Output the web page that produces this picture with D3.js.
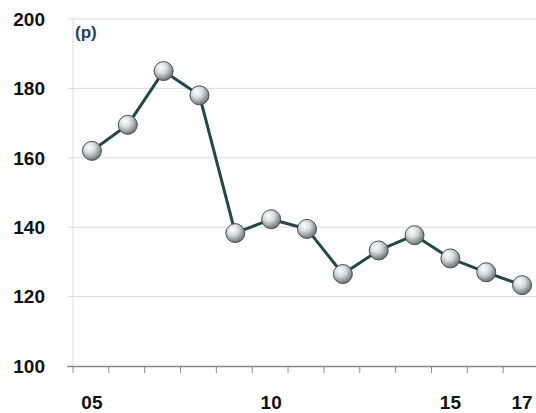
<!DOCTYPE html>
<html>
<head>
<meta charset="utf-8">
<script src="https://cdn.jsdelivr.net/npm/d3@7"></script>
<style>
  html, body { margin: 0; padding: 0; background: #fff; }
  svg { display: block; }
  text { font-family: "Liberation Sans", Arial, sans-serif; }
</style>
</head>
<body>
<svg id="chart" width="536" height="413"></svg>
<script>
// Index series, 2005–2017
const years = ["05","06","07","08","09","10","11","12","13","14","15","16","17"];
const values = [162, 169.5, 185, 178, 138.3, 142.3, 139.5, 126.5, 133.3, 137.7, 131, 127, 123.3];
const yTicks = [100, 120, 140, 160, 180, 200];
const xLabels = ["05", "10", "15", "17"];
const unitLabel = "(p)";

(function () {
const svg = d3.select("#chart");
const plotLeft = 74, plotRight = 540, plotTop = 19, plotBottom = 366;

const x = d3.scaleBand().domain(years).range([plotLeft, plotRight]);
const y = d3.scaleLinear().domain([100, 200]).range([plotBottom, plotTop]);
const cx = d => x(d) + x.bandwidth() / 2;

// Gradient for the spherical markers
const defs = svg.append("defs");
const grad = defs.append("radialGradient")
  .attr("id", "ball").attr("cx", "40%").attr("cy", "35%").attr("r", "65%")
  .attr("fx", "35%").attr("fy", "30%");
grad.append("stop").attr("offset", "0%").attr("stop-color", "#ffffff");
grad.append("stop").attr("offset", "45%").attr("stop-color", "#d8dcdc");
grad.append("stop").attr("offset", "100%").attr("stop-color", "#6c7272");

// Horizontal gridlines
svg.append("g").selectAll("line")
  .data(yTicks.filter(d => d !== 100))
  .join("line")
  .attr("x1", plotLeft - 6).attr("x2", plotRight)
  .attr("y1", d => y(d)).attr("y2", d => y(d))
  .attr("stroke", "#dadada").attr("stroke-width", 1);

// Left axis line
svg.append("line")
  .attr("x1", plotLeft - 1).attr("x2", plotLeft - 1)
  .attr("y1", plotTop).attr("y2", plotBottom)
  .attr("stroke", "#dcdcdc").attr("stroke-width", 1);

// Y tick labels
svg.append("g").selectAll("text")
  .data(yTicks)
  .join("text")
  .attr("x", 45).attr("y", d => y(d))
  .attr("dy", "0.36em")
  .attr("text-anchor", "end")
  .attr("font-size", 19).attr("font-weight", "bold")
  .attr("fill", "#111")
  .text(d => d);

// Bottom axis
const xAxis = d3.axisBottom(x).tickSize(0).tickFormat(() => "");
const gx = svg.append("g").attr("transform", `translate(0,${plotBottom})`).call(xAxis);
gx.select(".domain").attr("stroke", "#8a8a8a").attr("stroke-width", 1.5)
  .attr("d", `M${plotLeft - 7},0.5H${plotRight}`);

// Tick marks at category boundaries
svg.append("g").selectAll("line")
  .data(years)
  .join("line")
  .attr("x1", d => x(d) - 1).attr("x2", d => x(d) - 1)
  .attr("y1", plotBottom).attr("y2", plotBottom + 7)
  .attr("stroke", "#8a8a8a").attr("stroke-width", 1);

// Year labels
svg.append("g").selectAll("text")
  .data(xLabels)
  .join("text")
  .attr("x", d => cx(d))
  .attr("y", 409)
  .attr("text-anchor", "middle")
  .attr("font-size", 19).attr("font-weight", "bold")
  .attr("fill", "#111")
  .text(d => d);

// Unit label
svg.append("text")
  .attr("x", 75).attr("y", 38)
  .attr("font-size", 17).attr("font-weight", "bold")
  .attr("fill", "#27405f")
  .text(unitLabel);

const pts = years.map((d, i) => ({ year: d, value: values[i] }));

// Series line
svg.append("path")
  .datum(pts)
  .attr("fill", "none")
  .attr("stroke", "#23474a")
  .attr("stroke-width", 3)
  .attr("stroke-linejoin", "round")
  .attr("d", d3.line()
    .x(d => cx(d.year))
    .y(d => y(d.value)));

// Markers
svg.append("g").selectAll("circle")
  .data(pts)
  .join("circle")
  .attr("cx", d => cx(d.year))
  .attr("cy", d => y(d.value))
  .attr("r", 9.5)
  .attr("fill", "url(#ball)")
  .attr("stroke", "#4a4f50")
  .attr("stroke-width", 1);
})();
</script>
</body>
</html>
